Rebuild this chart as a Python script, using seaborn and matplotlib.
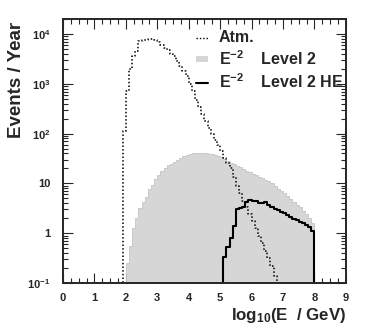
import numpy as np
import pandas as pd
import matplotlib
matplotlib.use('Agg')
import matplotlib.pyplot as plt
import seaborn as sns
from matplotlib.ticker import FixedLocator, AutoMinorLocator, LogLocator, NullFormatter
from matplotlib.lines import Line2D
from matplotlib.patches import Patch

# log10(E/GeV) histograms, bin width 0.1
bin_width = 0.1

# atmospheric neutrinos, bins starting at 1.9
atm_start = 1.9
atm_events = [112, 708, 2000, 3550, 4470, 7080, 7590, 7590, 7760, 7940,
              7410, 6920, 6030, 5250, 4680, 3980, 3550, 2880, 2290, 1780,
              1450, 1000, 708, 479, 339, 251, 178, 132, 100, 75.9,
              60.3, 44.7, 33.1, 26.3, 20.0, 13.2, 8.9, 6.3, 4.5, 3.3,
              2.4, 1.74, 1.26, 0.89, 0.63, 0.45, 0.32, 0.22, 0.14, 0.08]

# E^-2 signal, Level 2, bins starting at 2.0
l2_start = 2.0
l2_events = [0.25, 0.56, 1.26, 2.0, 3.16, 4.17, 5.25, 7.6, 9.1, 12.0,
             15.1, 17.4, 20.0, 22.9, 25.1, 27.5, 30.2, 33.1, 36.3, 38.0,
             39.8, 40.7, 41.7, 41.7, 41.7, 40.7, 39.8, 38.9, 37.2, 35.5,
             33.9, 31.6, 28.8, 26.3, 24.0, 22.4, 20.9, 19.1, 17.8, 16.6,
             15.5, 14.5, 13.5, 12.6, 11.7, 11.0, 10.0, 8.9, 7.9, 7.1,
             6.3, 5.5, 4.8, 4.2, 3.7, 3.3, 2.8, 2.4, 2.0, 1.6]

# E^-2 signal, Level 2 HE, bins starting at 5.1
he_start = 5.1
he_events = [0.33, 0.52, 0.79, 1.38, 3.0, 3.16, 3.3, 4.17, 4.57, 4.47,
             4.47, 3.98, 3.98, 4.17, 3.63, 3.31, 3.09, 2.88, 2.69, 2.51,
             2.29, 2.09, 1.95, 1.82, 1.70, 1.58, 1.45, 1.32, 1.12]

x_ticks = [0, 1, 2, 3, 4, 5, 6, 7, 8, 9]
y_ticks = [0.1, 1, 10, 100, 1000, 10000]
y_ticklabels = [r'$\mathbf{10^{-1}}$', '1', '10', r'$\mathbf{10^{2}}$',
                r'$\mathbf{10^{3}}$', r'$\mathbf{10^{4}}$']


def edges(start, n):
    # one empty bin on each side so the outline drops to the axis
    return list(np.round(start + bin_width * np.arange(-1, n + 2), 3))


sns.set_style('ticks')
plt.rcParams['font.family'] = ['Liberation Sans', 'DejaVu Sans']
plt.rcParams['font.weight'] = 'bold'
plt.rcParams['mathtext.fontset'] = 'custom'
plt.rcParams['mathtext.rm'] = 'Liberation Sans:bold'
plt.rcParams['mathtext.bf'] = 'Liberation Sans:bold'
plt.rcParams['mathtext.it'] = 'Liberation Sans:bold'

fig = plt.figure(figsize=(3.66, 3.33), dpi=100)
ax = fig.add_axes([0.172, 0.150, 0.773, 0.793])
ax.set_yscale('log')

gray = '#d6d6d6'
dots = (0, (1, 1.4))
for start, vals, kw in [
    (l2_start, l2_events, dict(element='step', fill=True, color=gray, alpha=1,
                               linewidth=0.6, edgecolor='#c4c4c4')),
    (atm_start, atm_events, dict(element='step', fill=False, color='black',
                                 linestyle=dots, linewidth=1.1)),
    (he_start, he_events, dict(element='step', fill=False, color='black', linewidth=1.5)),
]:
    e = edges(start, len(vals))
    df = pd.DataFrame({'x': [start + bin_width * (i + 0.5) for i in range(len(vals))], 'w': vals})
    sns.histplot(data=df, x='x', weights='w', bins=e, ax=ax, **kw)

ax.set_xlim(0, 9)
ax.set_ylim(0.1, 2e4)
ax.xaxis.set_major_locator(FixedLocator(x_ticks))
ax.xaxis.set_minor_locator(AutoMinorLocator(4))
ax.set_xticklabels([str(t) for t in x_ticks])
ax.yaxis.set_major_locator(FixedLocator(y_ticks))
ax.yaxis.set_minor_locator(LogLocator(base=10, subs=np.arange(2, 10)))
ax.yaxis.set_minor_formatter(NullFormatter())
ax.set_yticklabels(y_ticklabels)

ax.tick_params(which='both', direction='in', top=True, right=True,
               labelsize=8, width=0.8)
ax.tick_params(axis='y', pad=9)
ax.tick_params(axis='x', pad=7)
ax.tick_params(which='major', length=7)
ax.tick_params(which='minor', length=3.5)
for s in ax.spines.values():
    s.set_linewidth(1.4)

ax.set_ylabel('Events / Year', fontsize=13.5, fontweight='bold', loc='top')
ax.yaxis.set_label_coords(-0.135, 0.99)
ax.set_xlabel(r'log$_{\mathbf{10}}$(E  / GeV)', fontsize=12.2, fontweight='bold', loc='right', labelpad=2)

handles = [Line2D([], [], color='black', linestyle=dots, linewidth=1.0),
           Patch(facecolor=gray, edgecolor='none'),
           Line2D([], [], color='black', linewidth=1.5)]
labels = ['Atm.', r'E$^{\mathbf{-2}}$    Level 2', r'E$^{\mathbf{-2}}$    Level 2 HE']
ax.legend(handles, labels, loc='upper left', bbox_to_anchor=(0.43, 1.0),
          frameon=False, prop={'weight': 'bold', 'size': 11.5},
          handlelength=0.75, handleheight=0.25, labelspacing=0.25, handletextpad=0.7,
          borderpad=0.2)

fig.savefig('out.png', dpi=100)
